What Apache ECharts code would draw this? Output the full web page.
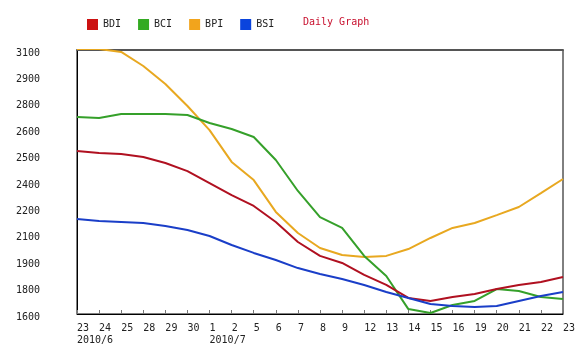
<!DOCTYPE html>
<html>
<head>
<meta charset="utf-8">
<script src="https://cdn.jsdelivr.net/npm/echarts@6/dist/echarts.min.js"></script>
<style>
  html, body { margin: 0; padding: 0; background: #fff; }
  #main { width: 580px; height: 351px; }
</style>
</head>
<body>
<div id="main"></div>
<script>
const days = ['23', '24', '25', '28', '29', '30', '1', '2', '5', '6', '7', '8',
  '9', '12', '13', '14', '15', '16', '19', '20', '21', '22', '23'];
const months = { 0: '2010/6', 6: '2010/7' };
const yLabels = ['1600', '1800', '1900', '2100', '2200', '2400', '2500', '2600', '2800', '2900', '3100'];

const bdi = [2526, 2515, 2509, 2492, 2458, 2412, 2344, 2276, 2214, 2123, 2009, 1930,
  1890, 1822, 1765, 1691, 1674, 1697, 1714, 1742, 1765, 1782, 1810];
const bci = [2719, 2714, 2736, 2736, 2736, 2731, 2685, 2651, 2606, 2475, 2299, 2151,
  2089, 1930, 1816, 1628, 1606, 1651, 1674, 1742, 1731, 1697, 1685];
const bpi = [3106, 3106, 3089, 3009, 2907, 2782, 2645, 2464, 2361, 2180, 2060, 1975,
  1935, 1924, 1930, 1969, 2032, 2089, 2117, 2162, 2208, 2287, 2367];
const bsi = [2140, 2128, 2123, 2117, 2100, 2077, 2043, 1992, 1947, 1907, 1861, 1827,
  1799, 1765, 1725, 1691, 1657, 1645, 1640, 1645, 1674, 1702, 1725];

const font = 'DejaVu Sans Mono';

const chart = echarts.init(document.getElementById('main'), null, { renderer: 'canvas' });

function line(name, data, color) {
  return {
    name: name,
    type: 'line',
    data: data,
    symbol: 'none',
    smooth: false,
    animation: false,
    lineStyle: { color: color, width: 2 },
    itemStyle: { color: color }
  };
}

const option = {
  animation: false,
  backgroundColor: '#fff',
  title: {
    text: 'Daily Graph',
    left: 298,
    top: 12,
    textStyle: { color: '#c8102e', fontFamily: font, fontSize: 10, fontWeight: 'normal' }
  },
  legend: {
    left: 82,
    top: 14,
    icon: 'rect',
    itemWidth: 11,
    itemHeight: 11,
    itemGap: 17,
    textStyle: { color: '#222', fontFamily: font, fontSize: 10 },
    data: [
      { name: 'BDI', itemStyle: { color: '#cc1111' } },
      { name: 'BCI', itemStyle: { color: '#33aa22' } },
      { name: 'BPI', itemStyle: { color: '#f2a41c' } },
      { name: 'BSI', itemStyle: { color: '#0a44dd' } }
    ]
  },
  grid: {
    left: 77, right: 17, top: 50, bottom: 37,
    show: true, borderColor: '#000', borderWidth: 1
  },
  xAxis: [{
    type: 'category',
    data: days,
    boundaryGap: false,
    axisLine: { lineStyle: { color: '#000', width: 1 } },
    axisTick: { inside: true, length: 4, interval: 0, lineStyle: { color: '#777' } },
    axisLabel: {
      interval: 0,
      align: 'left',
      margin: 8,
      color: '#222',
      fontFamily: font,
      fontSize: 10,
      lineHeight: 12,
      formatter: function (v, i) {
        return months[i] ? v + '\n' + months[i] : v;
      }
    }
  }, {
    type: 'category',
    data: days,
    position: 'top',
    boundaryGap: false,
    axisLine: { lineStyle: { color: '#555', width: 2 } },
    axisTick: { show: false },
    axisLabel: { show: false }
  }],
  yAxis: [{
    type: 'value',
    min: 1600,
    max: 3100,
    axisLine: { show: true, lineStyle: { color: '#000', width: 1 } },
    axisTick: { show: false },
    axisLabel: { show: false },
    splitLine: { show: false }
  }, {
    type: 'category',
    data: yLabels,
    boundaryGap: false,
    position: 'left',
    axisLine: { show: false },
    axisTick: { show: false },
    splitLine: { show: false },
    axisLabel: {
      interval: 0,
      margin: 37,
      color: '#222',
      fontFamily: font,
      fontSize: 10,
      verticalAlign: 'top',
      lineHeight: 6
    }
  }],
  series: [
    line('BPI', bpi, '#e8a820'),
    line('BCI', bci, '#35a02a'),
    line('BDI', bdi, '#b01020'),
    line('BSI', bsi, '#1a3ec8')
  ]
};

chart.setOption(option);
</script>
</body>
</html>
